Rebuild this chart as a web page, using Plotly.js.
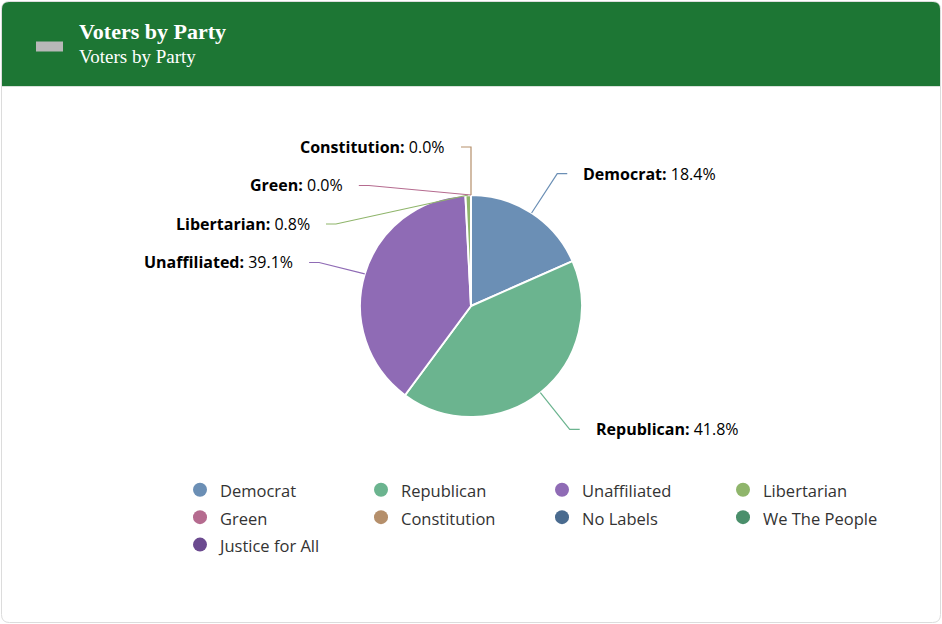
<!DOCTYPE html>
<html>
<head>
<meta charset="utf-8">
<script src="https://cdn.plot.ly/plotly-3.0.1.min.js"></script>
<style>
  html, body { margin: 0; padding: 0; background: #ffffff; }
  #chart { width: 942px; height: 624px; }
</style>
</head>
<body>
<div id="chart"></div>
<script>
// ---- data ----
const categories = ['Democrat', 'Republican', 'Unaffiliated', 'Libertarian', 'Green', 'Constitution', 'No Labels', 'We The People', 'Justice for All'];
const shares = [18.4, 41.8, 39.1, 0.8, 0.0, 0.0, null, null, null];
const colors = ['#6b8fb5', '#6bb48f', '#8f6bb5', '#8fb56b', '#b56b8f', '#b58f6b', '#4a6b8f', '#4a8f6b', '#6b4a8f'];
const chartTitle = 'Voters by Party';
const chartSubtitle = 'Voters by Party';

// ---- layout constants (pixels) ----
const W = 942, H = 624;
const ML = 142, MR = 0, MT = 0, MB = 0;
const GW = W - ML - MR, GH = H - MT - MB;
const px = x => (x - ML) / GW;
const py = y => 1 - (y - MT) / GH;

const cx = 471, cy = 306, r = 111;
const labelRadius = 158;
const labelSpacing = 38.5;
const labelTop = 147;
const bendLen = 10, textGap = 14;
const labelFont = { family: 'Open Sans, Noto Sans, sans-serif', size: 16, color: '#000000' };

// ---- slice geometry ----
const idx = categories.map((c, i) => i).filter(i => shares[i] !== null);
const total = idx.reduce((s, i) => s + shares[i], 0);

let cum = 0;
const pts = idx.map(i => {
  const v = shares[i];
  const frac = (cum + v / 2) / total;
  cum += v;
  const th = 2 * Math.PI * frac;
  return {
    i, v, frac, th,
    left: frac > 0.5,
    tx: cx + r * Math.sin(th), ty: cy - r * Math.cos(th),
    ny: cy - labelRadius * Math.cos(th)
  };
});

function arrange(list, left) {
  list.sort((a, b) => (a.ny - b.ny) || (left ? (b.frac - a.frac) || (b.i - a.i) : (a.frac - b.frac) || (a.i - b.i)));
  let groups = list.map(p => ({ items: [p] }));
  function place(g) {
    const mean = g.items.reduce((s, p) => s + p.ny, 0) / g.items.length;
    let start = mean - (g.items.length - 1) * labelSpacing / 2;
    if (start < labelTop) start = labelTop;
    g.start = start;
  }
  groups.forEach(place);
  let changed = true;
  while (changed) {
    changed = false;
    for (let k = 0; k < groups.length - 1; k++) {
      const a = groups[k], b = groups[k + 1];
      const aEnd = a.start + (a.items.length - 1) * labelSpacing;
      if (b.start - aEnd < labelSpacing - 0.01) {
        const m = { items: a.items.concat(b.items) };
        place(m);
        groups.splice(k, 2, m);
        changed = true;
        break;
      }
    }
  }
  groups.forEach(g => g.items.forEach((p, k) => { p.y = g.start + k * labelSpacing; }));
}
arrange(pts.filter(p => p.left), true);
arrange(pts.filter(p => !p.left), false);

const traces = [];
const annotations = [];
const shapes = [];

function roundRect(x0, y0, x1, y1, rTop, rBot) {
  const P = (x, y) => px(x) + ' ' + py(y);
  return `M ${P(x0 + rTop, y0)} L ${P(x1 - rTop, y0)} Q ${P(x1, y0)} ${P(x1, y0 + rTop)} L ${P(x1, y1 - rBot)} Q ${P(x1, y1)} ${P(x1 - rBot, y1)} L ${P(x0 + rBot, y1)} Q ${P(x0, y1)} ${P(x0, y1 - rBot)} L ${P(x0, y0 + rTop)} Q ${P(x0, y0)} ${P(x0 + rTop, y0)} Z`;
}

// card + header
shapes.push(
  { type: 'path', xref: 'paper', yref: 'paper', layer: 'below', path: roundRect(1.5, 1.5, 940.5, 622.5, 8, 8),
    line: { color: '#dcdcdc', width: 1 }, fillcolor: '#ffffff' },
  { type: 'path', xref: 'paper', yref: 'paper', layer: 'below', path: roundRect(2, 2, 940, 86, 7, 0),
    line: { width: 0 }, fillcolor: '#1d7634' },
  { type: 'line', xref: 'paper', yref: 'paper', layer: 'below', x0: px(2), x1: px(940), y0: py(86.5), y1: py(86.5),
    line: { color: '#d8e2da', width: 1 } },
  { type: 'rect', xref: 'paper', yref: 'paper', layer: 'below', x0: px(36), x1: px(63), y0: py(41.5), y1: py(51.5),
    line: { width: 0 }, fillcolor: '#b8b8b8' }
);

// connectors + data labels
pts.forEach(p => {
  const dy = p.y - cy;
  const dx = Math.sqrt(Math.max(0, labelRadius * labelRadius - dy * dy));
  const sgn = p.left ? -1 : 1;
  const bx = cx + sgn * dx;
  const ex = bx + sgn * bendLen;
  shapes.push({
    type: 'path', xref: 'paper', yref: 'paper', layer: 'above',
    path: `M ${px(ex)} ${py(p.y)} L ${px(bx)} ${py(p.y)} L ${px(p.tx)} ${py(p.ty)}`,
    line: { color: colors[p.i], width: 1.2 }
  });
  annotations.push({
    xref: 'paper', yref: 'paper', x: px(ex + sgn * textGap), y: py(p.y),
    xanchor: p.left ? 'right' : 'left', yanchor: 'middle',
    text: '<b>' + categories[p.i] + ':</b> ' + p.v.toFixed(1) + '%',
    showarrow: false, font: labelFont
  });
});

// pie
traces.push({
  type: 'pie',
  labels: idx.map(i => categories[i]),
  values: idx.map(i => shares[i]),
  marker: { colors: idx.map(i => colors[i]), line: { color: '#ffffff', width: 2 } },
  sort: false, direction: 'clockwise', rotation: 0,
  textinfo: 'none', hoverinfo: 'label+percent',
  showlegend: false,
  domain: { x: [px(cx - r), px(cx + r)], y: [py(cy + r), py(cy - r)] }
});

// legend entries (circle markers)
categories.forEach((c, i) => {
  traces.push({
    type: 'scatter', mode: 'markers', x: [null], y: [null],
    name: '<span style="font-size:16.5px">' + c + '</span>',
    marker: { color: colors[i], size: 14, symbol: 'circle', line: { width: 0 } },
    showlegend: true, hoverinfo: 'skip'
  });
});

// header titles
annotations.push({
  xref: 'paper', yref: 'paper', x: px(77), y: py(31), xanchor: 'left', yanchor: 'middle',
  text: '<b>' + chartTitle + '</b>', showarrow: false,
  font: { family: 'Liberation Serif, Times New Roman, serif', size: 22, color: '#ffffff' }
});
annotations.push({
  xref: 'paper', yref: 'paper', x: px(77), y: py(56), xanchor: 'left', yanchor: 'middle',
  text: chartSubtitle, showarrow: false,
  font: { family: 'Liberation Serif, Times New Roman, serif', size: 19, color: '#ffffff' }
});

const layout = {
  width: W, height: H,
  margin: { l: ML, r: MR, t: MT, b: MB, autoexpand: false },
  paper_bgcolor: '#ffffff', plot_bgcolor: 'rgba(0,0,0,0)',
  xaxis: { visible: false, fixedrange: true },
  yaxis: { visible: false, fixedrange: true },
  showlegend: true,
  legend: {
    orientation: 'h', x: px(180), xanchor: 'left', y: py(471), yanchor: 'top',
    entrywidth: 136, entrywidthmode: 'pixels',
    font: { family: 'Open Sans, Noto Sans, sans-serif', size: 18.8, color: '#333333' },
    bgcolor: 'rgba(0,0,0,0)', traceorder: 'normal'
  },
  shapes, annotations
};

Plotly.newPlot('chart', traces, layout, { displayModeBar: false, staticPlot: true });
</script>
</body>
</html>
